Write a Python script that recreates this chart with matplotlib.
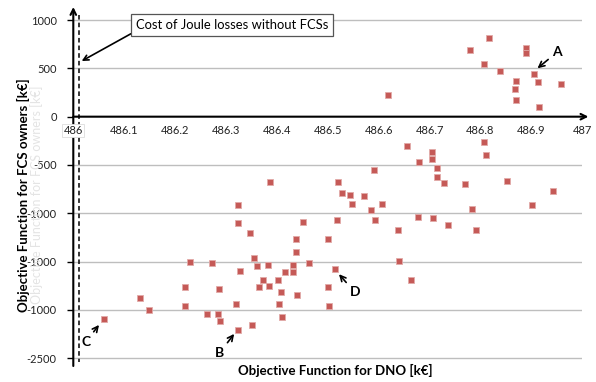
import numpy as np
import matplotlib
matplotlib.use('Agg')
import matplotlib.pyplot as plt

plt.rcParams['font.family'] = ['Lato', 'DejaVu Sans']

# objective function values (DNO [k€], FCS owners [k€])
upper_dno = [486.817, 486.779, 486.889, 486.890, 486.806, 486.839, 486.906,
             486.870, 486.912, 486.958, 486.868, 486.870, 486.914, 486.618]
upper_fcs = [817, 690, 708, 656, 542, 473, 445,
             372, 362, 338, 287, 173, 100, 221]

right_dno = [486.655, 486.704, 486.704, 486.680, 486.806, 486.811, 486.715,
             486.715, 486.729, 486.769, 486.853, 486.942, 486.606, 486.902,
             486.784, 486.677, 486.707, 486.736, 486.638, 486.792, 486.640,
             486.663]
right_fcs = [-306, -365, -441, -466, -259, -396, -534,
             -627, -686, -696, -662, -769, -900, -910,
             -958, -1035, -1048, -1123, -1175, -1175, -1496,
             -1686]

mid_dno = [486.591, 486.386, 486.520, 486.528, 486.543, 486.572, 486.547,
           486.584, 486.451, 486.518, 486.593, 486.438, 486.501, 486.437,
           486.382, 486.431, 486.464, 486.415, 486.431, 486.514, 486.373,
           486.403, 486.384, 486.408, 486.440, 486.501, 486.404, 486.502,
           486.411]
mid_fcs = [-551, -672, -679, -792, -810, -820, -900,
           -968, -1089, -1072, -1072, -1262, -1268, -1403,
           -1534, -1534, -1517, -1610, -1610, -1579, -1686,
           -1689, -1748, -1817, -1845, -1765, -1938, -1961,
           -2069]

left_dno = [486.323, 486.323, 486.348, 486.355, 486.360, 486.328, 486.229,
            486.272, 486.219, 486.287, 486.365, 486.131, 486.149, 486.220,
            486.320, 486.263, 486.284, 486.289, 486.324, 486.352, 486.060]
left_fcs = [-910, -1100, -1206, -1462, -1548, -1593, -1503,
            -1517, -1765, -1782, -1765, -1872, -2003, -1961,
            -1938, -2041, -2041, -2110, -2203, -2152, -2093]

dno = np.array(upper_dno + right_dno + mid_dno + left_dno)
fcs = np.array(upper_fcs + right_fcs + mid_fcs + left_fcs)

x_ticks = [486, 486.1, 486.2, 486.3, 486.4, 486.5, 486.6, 486.7, 486.8, 486.9, 487]
x_labels = ['486', '486.1', '486.2', '486.3', '486.4', '486.5', '486.6',
            '486.7', '486.8', '486.9', '487']
y_ticks = [1000, 500, 0, -500, -1000, -1500, -2000, -2500]
y_labels = ['1000', '500', '0', '-500', '-1000', '-1000', '-1000', '-2500']

joule_no_fcs = 486.011   # dashed reference line

# labelled solutions: (letter, point, text position)
marks = [('A', (486.912, 501), (486.950, 666)),
         ('B', (486.316, -2248), (486.288, -2441)),
         ('C', (486.0505, -2155), (486.025, -2328)),
         ('D', (486.522, -1630), (486.553, -1817))]

fig = plt.figure(figsize=(5.96, 3.82), dpi=100)
ax = fig.add_axes([73.3 / 596, 1 - 366 / 382, 509 / 596, 359 / 382])
ax.set_xlim(486, 487)
ax.set_ylim(-2580, 1135)

for s in ax.spines.values():
    s.set_visible(False)
ax.spines['left'].set_position(('data', 486))
ax.spines['bottom'].set_position(('data', 0))

# horizontal gridlines
for yv in y_ticks:
    if yv != 0:
        ax.plot([486, 487], [yv, yv], color='#BEBEBE', lw=1, zorder=1)

ax.set_xticks(x_ticks)
ax.set_xticklabels(x_labels, fontsize=8, color='#222222')
ax.set_yticks(y_ticks)
ax.set_yticklabels(y_labels, fontsize=8, color='#222222')
ax.tick_params(axis='x', length=0, pad=6)
ax.tick_params(axis='y', length=4, width=1, pad=8, direction='out')
ax.get_xticklabels()[0].set_bbox(dict(facecolor='white', edgecolor='#DDDDDD', pad=1, lw=0.6))
ax.xaxis.set_zorder(5)

# axes with arrows
ax.annotate('', xy=(486, 1135), xytext=(486, -2580),
            arrowprops=dict(arrowstyle='->', lw=1.5, color='black', shrinkA=0, shrinkB=0),
            annotation_clip=False)
ax.annotate('', xy=(487.012, 0), xytext=(486, 0),
            arrowprops=dict(arrowstyle='->', lw=1.5, color='black', shrinkA=0, shrinkB=0),
            annotation_clip=False)

ax.plot([joule_no_fcs, joule_no_fcs], [1052, -2537], color='black', lw=1.1,
        ls=(0, (3, 2)), zorder=2)

ax.plot(dno, fcs, 's', markersize=5, mfc='#C55A57', mec='#E2AAA8', mew=0.6,
        zorder=3, clip_on=False)

ax.annotate('Cost of Joule losses without FCSs', xy=(486.0165, 576),
            xytext=(486.312, 949), ha='center', va='center', fontsize=9.4,
            bbox=dict(boxstyle='square,pad=0.35', facecolor='white', edgecolor='#555555', lw=0.9),
            arrowprops=dict(arrowstyle='->', lw=1.2, color='black', shrinkA=0, shrinkB=0,
                            relpos=(0, 0)))

for letter, pt, txt in marks:
    ax.annotate(letter, xy=pt, xytext=txt, ha='center', va='center',
                fontsize=10, fontweight='bold',
                arrowprops=dict(arrowstyle='->', lw=1.2, color='black', shrinkA=1, shrinkB=0))

# faint duplicate of the y label seen in the original picture
fig.text(37 / 596, 1 - 195 / 382, 'Objective Function for FCS owners [k€]',
         rotation=90, ha='center', va='center', fontsize=9, color='#E4E4E4')
fig.text(23 / 596, 1 - 195 / 382, 'Objective Function for FCS owners [k€]',
         rotation=90, ha='center', va='center', fontsize=9.5, fontweight='bold')
fig.text(335 / 596, 1 - 370 / 382, 'Objective Function for DNO [k€]',
         ha='center', va='center', fontsize=9.5, fontweight='bold')

fig.savefig('out.png', dpi=100)
